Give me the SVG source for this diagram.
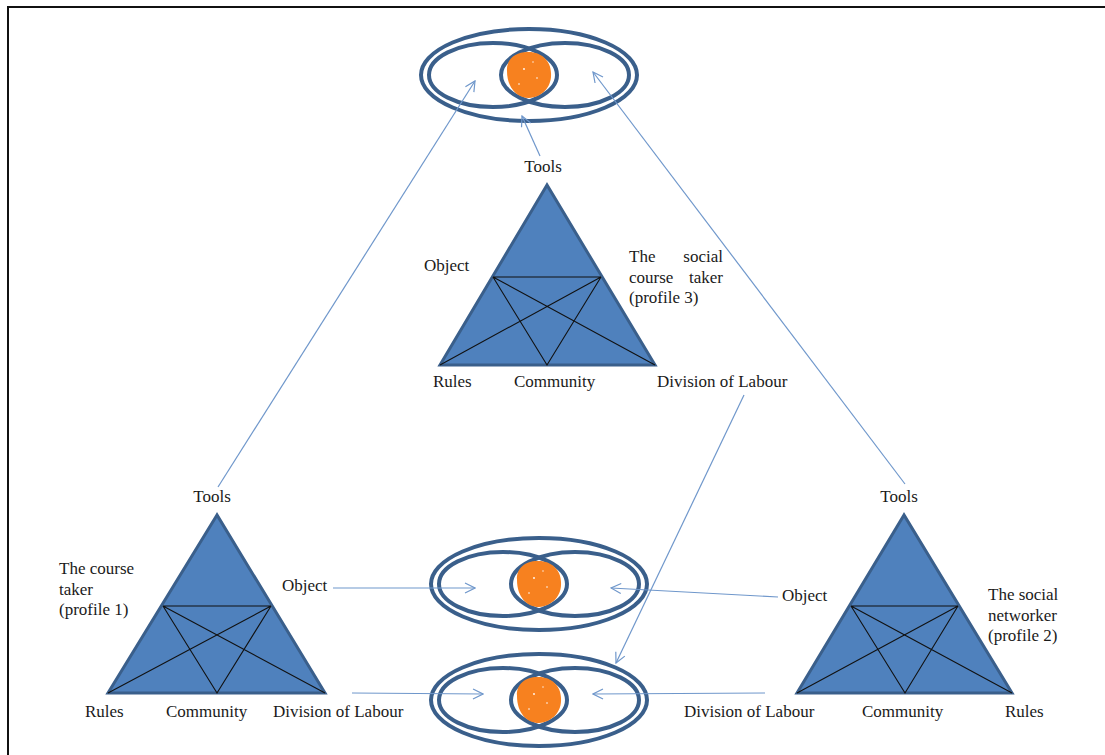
<svg xmlns="http://www.w3.org/2000/svg" width="1105" height="755" viewBox="0 0 1105 755">
  <style>
    .frame { fill: none; stroke: #111; stroke-width: 2; }
    .ring { fill: none; stroke: #3A5F8B; stroke-width: 4; }
    .blob { fill: #F7811F; stroke: none; }
    .tri { fill: #4F81BD; stroke: #3A5F8B; stroke-width: 3; stroke-linejoin: miter; }
    .web { fill: none; stroke: #111; stroke-width: 1.1; }
    .conn { fill: none; stroke: #6F97CB; stroke-width: 1.2; marker-end: url(#open); }
    text { font-family: "Liberation Serif", "Times New Roman", serif; font-size: 17px; fill: #1a1a1a; }
    .mid { text-anchor: middle; }
    .end { text-anchor: end; }
  </style>
  <defs>
    <marker id="open" viewBox="0 0 12 12" refX="11" refY="6" markerWidth="12" markerHeight="12" markerUnits="userSpaceOnUse" orient="auto">
      <path d="M1,1 L11,6 L1,11" fill="none" stroke="#6F97CB" stroke-width="1.2"/>
    </marker>
    <!-- three overlapping rings with an orange core -->
    <g id="venn">
      <ellipse class="ring" cx="0" cy="0" rx="108" ry="46"/>
      <ellipse class="ring" cx="-36" cy="0" rx="64" ry="32"/>
      <ellipse class="ring" cx="36" cy="0" rx="64" ry="32"/>
      <path class="blob" d="M-22,-4 C-23,-16 -13,-23 -2,-23 C11,-24 22,-15 22,-2 C23,12 13,22 0,23 C-12,23 -22,13 -22,-4 Z"/>
      <circle cx="-5" cy="-6" r="0.9" fill="#fff"/>
      <circle cx="8" cy="3" r="0.8" fill="#fff"/>
      <circle cx="-10" cy="9" r="0.8" fill="#fff"/>
      <circle cx="4" cy="-13" r="0.7" fill="#fff"/>
    </g>
  </defs>

  <!-- page frame -->
  <path class="frame" d="M8,755 L8,7 L1105,7"/>

  <!-- ring clusters -->
  <g id="venn-top"><use href="#venn" x="529" y="75"/></g>
  <g id="venn-middle"><use href="#venn" x="539" y="584"/></g>
  <g id="venn-bottom"><use href="#venn" x="539" y="700"/></g>

  <!-- profile 3 triangle -->
  <g id="profile-3">
    <polygon class="tri" points="547,185 440,365 655,365"/>
    <path class="web" d="M493,277 L601,277 M493,277 L547,365 L601,277 M493,277 L655,365 M601,277 L440,365"/>
    <text class="mid" x="543" y="172">Tools</text>
    <text x="424" y="271">Object</text>
    <text x="629" y="262">The</text>
    <text class="end" x="723" y="262">social</text>
    <text x="629" y="283">course</text>
    <text class="end" x="723" y="283">taker</text>
    <text x="629" y="303">(profile 3)</text>
    <text x="433" y="387">Rules</text>
    <text x="514" y="387">Community</text>
    <text x="657" y="387">Division of Labour</text>
  </g>

  <!-- profile 1 triangle -->
  <g id="profile-1">
    <polygon class="tri" points="217,515 108,693 325,693"/>
    <path class="web" d="M163,606 L271,606 M163,606 L217,693 L271,606 M163,606 L325,693 M271,606 L108,693"/>
    <text class="mid" x="212" y="502">Tools</text>
    <text x="59" y="574">The course</text>
    <text x="59" y="595">taker</text>
    <text x="59" y="615">(profile 1)</text>
    <text x="282" y="591">Object</text>
    <text x="85" y="717">Rules</text>
    <text x="166" y="717">Community</text>
    <text x="273" y="717">Division of Labour</text>
  </g>

  <!-- profile 2 triangle -->
  <g id="profile-2">
    <polygon class="tri" points="904,515 797,693 1012,693"/>
    <path class="web" d="M851,606 L958,606 M851,606 L905,693 L958,606 M851,606 L1012,693 M958,606 L797,693"/>
    <text class="mid" x="899" y="502">Tools</text>
    <text x="782" y="601">Object</text>
    <text x="988" y="600">The social</text>
    <text x="988" y="621">networker</text>
    <text x="988" y="641">(profile 2)</text>
    <text x="684" y="717">Division of Labour</text>
    <text x="862" y="717">Community</text>
    <text x="1005" y="717">Rules</text>
  </g>

  <!-- connectors -->
  <g id="connectors">
    <line class="conn" x1="218" y1="487" x2="475" y2="81"/>
    <line class="conn" x1="540" y1="156" x2="522" y2="116"/>
    <line class="conn" x1="905" y1="484" x2="593" y2="72"/>
    <line class="conn" x1="744" y1="395" x2="616" y2="663"/>
    <line class="conn" x1="333" y1="588" x2="475" y2="588"/>
    <line class="conn" x1="778" y1="597" x2="611" y2="588"/>
    <line class="conn" x1="352" y1="693" x2="483" y2="694"/>
    <line class="conn" x1="765" y1="693" x2="593" y2="694"/>
  </g>
</svg>
